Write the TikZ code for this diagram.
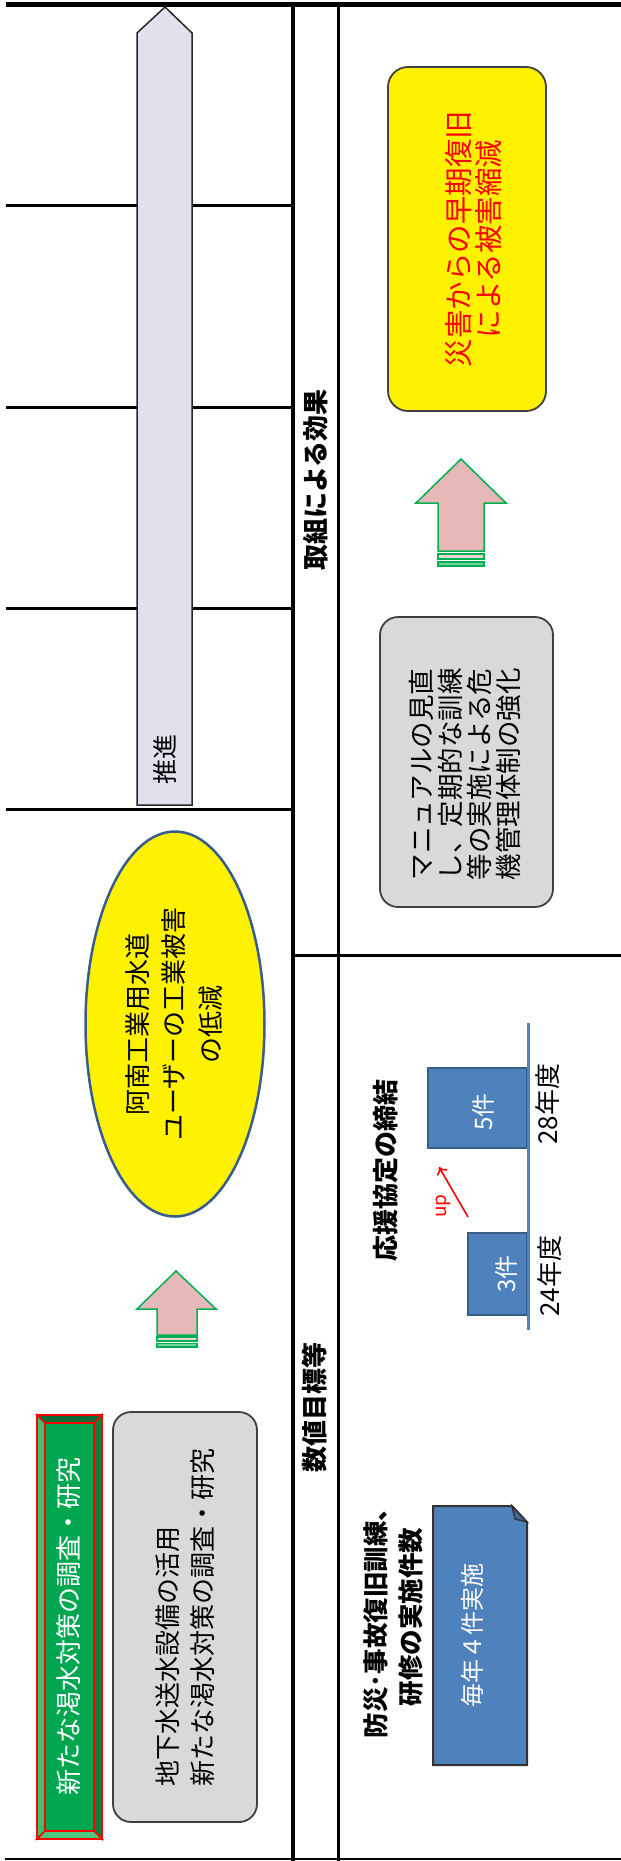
\documentclass[tikz,border=0pt]{standalone}
\usepackage{fontspec}
\setmainfont{Noto Sans CJK JP}
\usetikzlibrary{arrows.meta}
\definecolor{lav}{HTML}{E4DFEC}
\definecolor{pinkf}{HTML}{E6B9B8}
\definecolor{greenb}{HTML}{00B050}
\definecolor{grayf}{HTML}{D9D9D9}
\definecolor{grayb}{HTML}{404040}
\definecolor{blf}{HTML}{4F81BD}
\definecolor{blb}{HTML}{385D8A}
\definecolor{gmain}{HTML}{00A650}
\definecolor{gtop}{HTML}{0D6B35}
\definecolor{gleft}{HTML}{3DBF6F}
\definecolor{gright}{HTML}{0E7F3E}
\definecolor{gbot}{HTML}{4CC77F}
\definecolor{flap}{HTML}{3F6797}
\tikzset{
  txt/.style={inner sep=0pt, rotate=90, font=\fontsize{26}{35}\selectfont},
  gridthin/.style={line width=3pt, black},
  pinkarr/.style={fill=pinkf, draw=greenb, line width=1.5pt, line join=miter},
  stripeA/.style={fill=pinkf!60, draw=greenb, line width=1.2pt},
  stripeB/.style={fill=greenb!55, draw=greenb, line width=1.2pt},
  graybox/.style={fill=grayf, draw=grayb, line width=1.8pt, rounded corners=18pt},
  barbox/.style={fill=blf, draw=blb, line width=2pt},
  bev/.style={draw=red, line width=1.5pt, line join=miter},
}
\begin{document}
\begin{tikzpicture}[x=1pt,y=-1pt]
\useasboundingbox (0,0) rectangle (621,1861);
% table lines
\draw[line width=5pt] (6,4) -- (621,4);
\draw[line width=2pt] (5,1859) -- (621,1859);
\foreach \yy in {205,407,608,809} \draw[gridthin] (6,\yy) -- (293,\yy);
\draw[line width=4.5pt] (293,4) -- (293,1861);
\draw[line width=3pt] (338,4) -- (338,1861);
\draw[line width=3pt] (293,955) -- (621,955);

% purple bar
\draw[fill=lav, draw=black!85, line width=1.5pt] (165,7) -- (192,33) -- (192,805) -- (137,805) -- (137,33) -- cycle;
\node[txt, font=\fontsize{25}{30}\selectfont] (suishin) at (165,759) {推進};

% ellipse
\draw[fill=yellow, draw=blb, line width=2.5pt] (175,1024) ellipse [x radius=89.5, y radius=192.5];
\node[txt, align=center, font=\fontsize{26}{36.5}\selectfont] (anan) at (174,1024) {阿南工業用水道\\ユーザーの工業被害\\の低減};

% left pink arrow
\draw[pinkarr] (176,1271) -- (216,1309) -- (197,1309) -- (197,1335) -- (157,1335) -- (157,1309) -- (137,1309) -- cycle;
\draw[stripeA] (157,1337) rectangle (197,1341);
\draw[stripeB] (157,1343.5) rectangle (197,1347);

% green bevel box
\fill[gmain] (45,1423) rectangle (94,1831);
\draw[bev, fill=gtop] (37,1415) -- (102,1415) -- (94,1423) -- (45,1423) -- cycle;
\draw[bev, fill=gleft] (37,1415) -- (45,1423) -- (45,1831) -- (37,1839) -- cycle;
\draw[bev, fill=gright] (102,1415) -- (94,1423) -- (94,1831) -- (102,1839) -- cycle;
\draw[bev, fill=gbot] (37,1839) -- (45,1831) -- (94,1831) -- (102,1839) -- cycle;
\draw[bev] (45,1423) rectangle (94,1831);
\draw[red, line width=2pt] (37,1415) rectangle (102,1839);
\node[txt, white] (shintana) at (69,1626) {新たな渇水対策の調査・研究};

% gray box 1
\draw[graybox] (113,1412) rectangle (257,1822);
\node[txt, align=left] (chika) at (185.5,1617) {地下水送水設備の活用\\新たな渇水対策の調査・研究};

% headings
\node[txt, font=\fontsize{26}{30}\selectfont\bfseries] (kouka) at (316,480) {取組による効果};
\node[txt, font=\fontsize{26}{30}\selectfont\bfseries] (suchi) at (315,1407) {数値目標等};

% yellow rounded box
\draw[fill=yellow, draw=grayb, line width=1.8pt, rounded corners=20pt] (388,67) rectangle (546,411);
\node[txt, red, align=center, font=\fontsize{28.5}{30}\selectfont] (saigai) at (474,239) {災害からの早期復旧\\による被害縮減};

% right pink arrow
\draw[pinkarr] (461,459) -- (506,503) -- (484,503) -- (484,551) -- (438,551) -- (438,503) -- (416,503) -- cycle;
\draw[stripeA] (438,554) rectangle (484,559);
\draw[stripeB] (438,562) rectangle (484,566);

% gray box 2
\draw[graybox] (380,617) rectangle (553,907);
\node[txt, align=left, font=\fontsize{26.5}{29}\selectfont] (manual) at (465.5,774) {マニュアルの見直\\し、定期的な訓練\\等の実施による危\\機管理体制の強化};

% bar chart
\node[txt, font=\fontsize{26}{30}\selectfont\bfseries] (ouen) at (386,1170) {応援協定の締結};
\draw[barbox] (428,1068) rectangle (527,1148);
\draw[barbox] (468,1233) rectangle (527,1315);
\draw[blf, line width=3pt] (528,1023) -- (528,1330);
\node[txt, white, font=\fontsize{24}{28}\selectfont] (five) at (483,1112) {5件};
\node[txt, white, font=\fontsize{24}{28}\selectfont] (three) at (506,1274) {3件};
\node[txt] (y28) at (548,1104) {28年度};
\node[txt] (y24) at (550,1276) {24年度};
\coordinate (upA) at (468,1217);
\coordinate (upB) at (439,1167);
\draw[red, line width=1.6pt, -{To[length=7pt,width=12pt]}] (upA) -- (upB);
\node[txt, red, font=\fontsize{19}{22}\selectfont] (up) at (443,1206) {up};

% training count
\node[txt, align=center, font=\fontsize{25.5}{35}\selectfont\bfseries] (bousai) at (393.5,1617) {防災･事故復旧訓練、\\研修の実施件数};
\draw[fill=blf, draw=black!80, line width=2pt, line join=miter] (433,1506) -- (512,1506) -- (527,1522) -- (527,1765) -- (433,1765) -- cycle;
\draw[fill=flap, draw=black!80, line width=1.5pt] (512,1506) -- (515,1519) -- (527,1522) -- cycle;
\node[txt, white, font=\fontsize{24}{28}\selectfont] (maitoshi) at (472,1635) {毎年４件実施};
\end{tikzpicture}
\end{document}
